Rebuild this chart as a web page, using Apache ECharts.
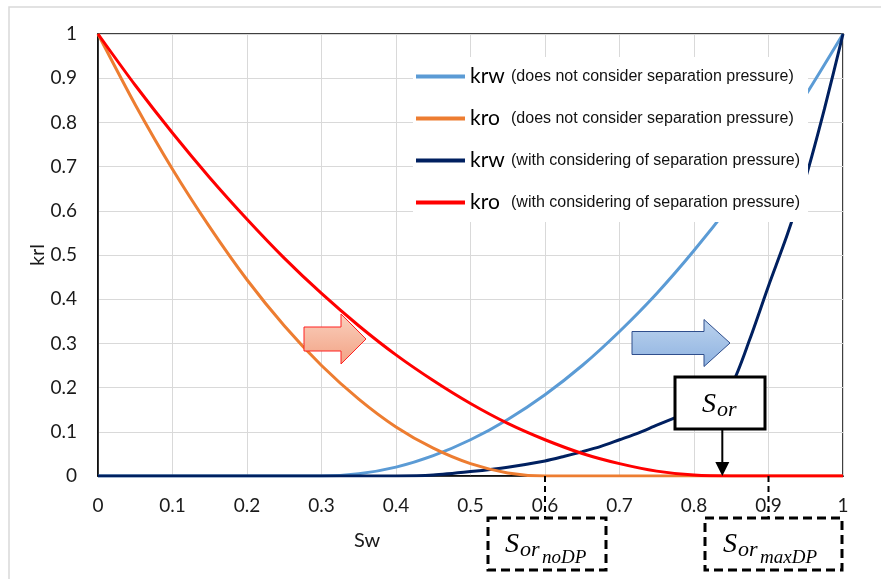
<!DOCTYPE html>
<html>
<head>
<meta charset="utf-8">
<script src="https://cdn.jsdelivr.net/npm/echarts/dist/echarts.min.js"></script>
<style>
    html, body { margin: 0; padding: 0; background: #fff; }
    #main { width: 881px; height: 579px; }
</style>
</head>
<body>
<div id="main"></div>
<script>
// Sw 取值
var sw = [0, 0.05, 0.1, 0.15, 0.2, 0.25, 0.3, 0.35, 0.4, 0.45, 0.5, 0.55, 0.6, 0.65, 0.7, 0.75, 0.8, 0.85, 0.9, 0.95, 1];
var swDP = [0, 0.4, 0.45, 0.5, 0.55, 0.6, 0.625, 0.65, 0.675, 0.7, 0.725, 0.75, 0.775, 0.8, 0.825, 0.85, 0.875, 0.9, 0.925, 0.95, 0.975, 1];

// 不考虑分离压力
var krwNoDP = [0, 0, 0, 0, 0, 0, 0, 0.005, 0.02, 0.046, 0.082, 0.128, 0.184, 0.25, 0.327, 0.413, 0.51, 0.617, 0.735, 0.862, 1];
var kroNoDP = [1, 0.84, 0.694, 0.563, 0.444, 0.34, 0.25, 0.174, 0.111, 0.063, 0.028, 0.007, 0, 0, 0, 0, 0, 0, 0, 0, 0];
// 考虑分离压力
var krwDP = [0, 0, 0.002, 0.01, 0.02, 0.034, 0.044, 0.055, 0.067, 0.082, 0.097, 0.115, 0.132, 0.15, 0.17, 0.205, 0.31, 0.43, 0.545, 0.675, 0.83, 1];
var kroDP = [1, 0.884, 0.776, 0.675, 0.581, 0.493, 0.413, 0.34, 0.274, 0.216, 0.164, 0.119, 0.082, 0.051, 0.028, 0.011, 0.002, 0, 0, 0, 0];

var names = [
    'krw (does not consider separation pressure)',
    'kro (does not consider separation pressure)',
    'krw (with considering of separation pressure)',
    'kro (with considering of separation pressure)'
];
var colors = ['#5B9BD5', '#ED7D31', '#002060', '#FF0000'];

var pairs = function (xs, ys) {
    var out = [];
    for (var i = 0; i < xs.length; i++) {
        out.push([xs[i], ys[i]]);
    }
    return out;
};

var lineSeries = function (name, color, data, z) {
    return {
        name: name,
        type: 'line',
        data: data,
        smooth: 0.25,
        symbol: 'none',
        z: z,
        lineStyle: { width: 3, color: color },
        itemStyle: { color: color }
    };
};

var tickFmt = function (v) {
    var r = Math.round(v * 10) / 10;
    return r === 0 || r === 1 ? String(r) : r.toFixed(1);
};

var chart = echarts.init(document.getElementById('main'));
chart.setOption({
    animation: false,
    grid: {
        left: 98, right: 38, top: 34, bottom: 103,
        show: true, borderColor: '#000', borderWidth: 1.5
    },
    legend: {
        data: names,
        orient: 'vertical',
        left: 413,
        top: 57,
        padding: [9, 8, 9, 3],
        itemGap: 21,
        itemWidth: 49,
        itemHeight: 4,
        icon: 'rect',
        backgroundColor: '#fff',
        formatter: function (name) {
            var i = name.indexOf(' ');
            return '{a|' + name.slice(0, i) + '}{b|' + name.slice(i + 1) + '}';
        },
        textStyle: {
            rich: {
                a: { fontFamily: 'Lato', fontSize: 21, color: '#000', width: 41, lineHeight: 20 },
                b: { fontFamily: 'Liberation Sans', fontSize: 16, color: '#111', lineHeight: 20 }
            }
        }
    },
    xAxis: {
        type: 'value',
        min: 0, max: 1, interval: 0.1,
        axisLine: { lineStyle: { color: '#000', width: 1.5 } },
        axisTick: { show: false },
        splitLine: { lineStyle: { color: '#D9D9D9', width: 1 } },
        axisLabel: { formatter: tickFmt, fontFamily: 'Lato', fontSize: 19, color: '#1a1a1a', margin: 20 }
    },
    yAxis: {
        type: 'value',
        min: 0, max: 1, interval: 0.1,
        axisLine: { show: true, lineStyle: { color: '#000', width: 1.5 } },
        axisTick: { show: false },
        splitLine: { lineStyle: { color: '#D9D9D9', width: 1 } },
        axisLabel: { formatter: tickFmt, fontFamily: 'Lato', fontSize: 19, color: '#1a1a1a', margin: 21 }
    },
    series: [
        lineSeries(names[0], colors[0], pairs(sw, krwNoDP), 2),
        lineSeries(names[2], colors[2], pairs(swDP, krwDP), 3),
        lineSeries(names[1], colors[1], pairs(sw, kroNoDP), 4),
        lineSeries(names[3], colors[3], pairs(sw, kroDP), 5)
    ]
});

// 注释图形
var px = function (x, y) {
    return chart.convertToPixel({ gridIndex: 0 }, [x, y]);
};
var p0 = px(0, 0);
var p60 = px(0.6, 0);
var p90 = px(0.9, 0);
var pSor = px(0.838, 0);
var boxTop = 518;

var sub = function (x, y, s, a, b, fs) {
    var items = [
        { type: 'text', left: x, top: y - 20, z: 100, style: { text: s, font: 'italic 28px "Liberation Serif"', fill: '#000' } },
        { type: 'text', left: x + 15, top: y - 12, z: 100, style: { text: a, font: 'italic 22px "Liberation Serif"', fill: '#000' } }
    ];
    if (b) {
        items.push({ type: 'text', left: x + 37, top: y - 3, z: 100, style: { text: b, font: 'italic ' + fs + 'px "Liberation Serif"', fill: '#000' } });
    }
    return items;
};

var blockArrow = function (x0, x1, x2, yc, hb, hh, fill, stroke) {
    return {
        type: 'polygon', z: 50,
        shape: { points: [[x0, yc - hb], [x1, yc - hb], [x1, yc - hh], [x2, yc], [x1, yc + hh], [x1, yc + hb], [x0, yc + hb]] },
        style: { fill: fill, stroke: stroke, lineWidth: 1 }
    };
};

var graphics = [
    { type: 'rect', z: -10, shape: { x: 9, y: 7, width: 900, height: 600 }, style: { fill: 'none', stroke: '#D9D9D9', lineWidth: 1.5 } },
    { type: 'text', x: 38, y: 255, rotation: Math.PI / 2, z: 100,
      style: { text: 'krl', font: '20px Lato', fill: '#1a1a1a', align: 'center', verticalAlign: 'middle' } },
    { type: 'text', x: 367, y: 541, z: 100,
      style: { text: 'Sw', font: '20px Lato', fill: '#1a1a1a', align: 'center', verticalAlign: 'middle' } },
    blockArrow(304, 341, 366, 339, 12, 25,
        new echarts.graphic.LinearGradient(0, 0, 0, 1, [{ offset: 0, color: '#FAD0BE' }, { offset: 1, color: '#F2A284' }]), '#FF2020'),
    blockArrow(632, 704, 730, 343, 11.5, 23.5,
        new echarts.graphic.LinearGradient(0, 0, 0, 1, [{ offset: 0, color: '#BCD3EE' }, { offset: 1, color: '#8EB2E0' }]), '#2F4E8C'),
    // Sor 框和箭头
    { type: 'rect', z: 60, shape: { x: 675, y: 377, width: 90, height: 52 }, style: { fill: '#fff', stroke: '#000', lineWidth: 3 } },
    { type: 'line', z: 60, shape: { x1: pSor[0], y1: 430, x2: pSor[0], y2: p0[1] - 13 }, style: { stroke: '#000', lineWidth: 2 } },
    { type: 'polygon', z: 60, shape: { points: [[pSor[0] - 7, p0[1] - 14], [pSor[0] + 7, p0[1] - 14], [pSor[0], p0[1]]] }, style: { fill: '#000' } },
    // 虚线框
    { type: 'line', z: 60, shape: { x1: p60[0], y1: p0[1], x2: p60[0], y2: boxTop }, style: { stroke: '#000', lineWidth: 2, lineDash: [6, 4] } },
    { type: 'line', z: 60, shape: { x1: p90[0], y1: p0[1], x2: p90[0], y2: boxTop }, style: { stroke: '#000', lineWidth: 2, lineDash: [6, 4] } },
    { type: 'rect', z: 60, shape: { x: 488, y: boxTop, width: 118, height: 52 }, style: { fill: '#fff', stroke: '#000', lineWidth: 3, lineDash: [9, 5] } },
    { type: 'rect', z: 60, shape: { x: 705, y: boxTop, width: 137, height: 52 }, style: { fill: '#fff', stroke: '#000', lineWidth: 3, lineDash: [9, 5] } }
];
graphics = graphics.concat(sub(702, 411, 'S', 'or'));
graphics = graphics.concat(sub(505, 551, 'S', 'or', 'noDP', 19));
graphics = graphics.concat(sub(723, 551, 'S', 'or', 'maxDP', 19));

chart.setOption({ graphic: graphics });
</script>
</body>
</html>
